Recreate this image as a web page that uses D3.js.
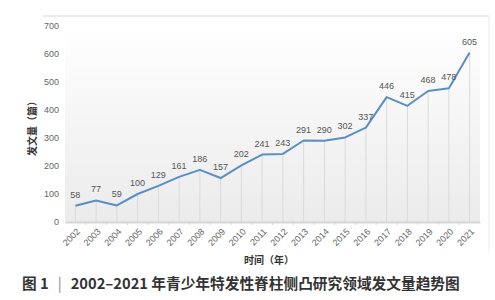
<!DOCTYPE html>
<html>
<head>
<meta charset="utf-8">
<script src="https://cdn.jsdelivr.net/npm/d3@7"></script>
<style>
  body { margin: 0; background: #fff; }
  svg { display: block; font-family: "Liberation Sans", Arial, sans-serif; }
</style>
</head>
<body>
<div id="chart"></div>
<script>
// data
const years = ["2002","2003","2004","2005","2006","2007","2008","2009","2010","2011",
               "2012","2013","2014","2015","2016","2017","2018","2019","2020","2021"];
const counts = [58, 77, 59, 100, 129, 161, 186, 157, 202, 241,
                243, 291, 290, 302, 337, 446, 415, 468, 478, 605];
const yTicks = [0, 100, 200, 300, 400, 500, 600, 700];

const W = 495, H = 300;
const margin = { top: 26, right: 15, bottom: 78, left: 65 };
const innerW = W - margin.left - margin.right;
const innerH = H - margin.top - margin.bottom;

const svg = d3.select("#chart").append("svg")
    .attr("width", W)
    .attr("height", H);

// gradient for the plot background
const defs = svg.append("defs");
const grad = defs.append("linearGradient")
    .attr("id", "bg")
    .attr("x1", 0).attr("y1", 0).attr("x2", 0).attr("y2", 1);
grad.append("stop").attr("offset", "0%").attr("stop-color", "#ffffff");
grad.append("stop").attr("offset", "100%").attr("stop-color", "#ebebeb");

// outer panel lines (top and right)
svg.append("line")
    .attr("x1", 43).attr("x2", 489).attr("y1", 16).attr("y2", 16)
    .attr("stroke", "#e4e4e4").attr("stroke-width", 1.5);
svg.append("line")
    .attr("x1", 489).attr("x2", 489).attr("y1", 16).attr("y2", 252)
    .attr("stroke", "#ececec").attr("stroke-width", 1);

const g = svg.append("g")
    .attr("transform", `translate(${margin.left},${margin.top})`);

const x = d3.scaleBand().domain(years).range([0, innerW]);
const y = d3.scaleLinear().domain([0, 700]).range([innerH, 0]);
const cx = d => x(d) + x.bandwidth() / 2;

g.append("rect")
    .attr("x", 0).attr("y", 0)
    .attr("width", innerW).attr("height", innerH)
    .attr("fill", "url(#bg)");

// y axis labels
const yAxis = g.append("g")
    .call(d3.axisLeft(y).tickValues(yTicks).tickSize(0).tickPadding(6));
yAxis.select(".domain").remove();
yAxis.selectAll("text")
    .attr("fill", "#666")
    .style("font-size", "9px");

// drop lines from each point to baseline
g.selectAll(".drop")
    .data(counts)
    .join("line")
    .attr("class", "drop")
    .attr("x1", (d, i) => cx(years[i]))
    .attr("x2", (d, i) => cx(years[i]))
    .attr("y1", d => y(d))
    .attr("y2", innerH)
    .attr("stroke", "#dadada")
    .attr("stroke-width", 1);

// x axis baseline (labels drawn separately, slanted)
const xAxis = g.append("g")
    .attr("transform", `translate(0,${innerH})`)
    .call(d3.axisBottom(x).tickSize(0).tickFormat(""));
xAxis.select(".domain")
    .attr("stroke", "#d6d6d6")
    .attr("stroke-width", 2);

g.selectAll(".xlab")
    .data(years)
    .join("text")
    .attr("class", "xlab")
    .attr("transform", d => `translate(${cx(d) + 3},${innerH + 8}) rotate(-45)`)
    .attr("text-anchor", "end")
    .attr("dy", "0.35em")
    .attr("fill", "#666")
    .style("font-size", "9px")
    .text(d => d);

// small tick marks at band edges
g.selectAll(".tick-mark")
    .data(years.slice(1))
    .join("line")
    .attr("class", "tick-mark")
    .attr("x1", d => x(d)).attr("x2", d => x(d))
    .attr("y1", innerH).attr("y2", innerH + 3)
    .attr("stroke", "#d6d6d6");

// the line
const line = d3.line()
    .x((d, i) => cx(years[i]))
    .y(d => y(d));

g.append("path")
    .datum(counts)
    .attr("fill", "none")
    .attr("stroke", "#5b8ec4")
    .attr("stroke-width", 2)
    .attr("stroke-linejoin", "round")
    .attr("d", line);

// value labels
g.selectAll(".val")
    .data(counts)
    .join("text")
    .attr("class", "val")
    .attr("x", (d, i) => cx(years[i]))
    .attr("y", d => y(d) - 8)
    .attr("text-anchor", "middle")
    .attr("fill", "#555")
    .style("font-size", "9px")
    .text(d => d);

// axis titles
svg.append("text")
    .attr("x", 269).attr("y", 264)
    .attr("text-anchor", "middle")
    .attr("fill", "#333")
    .style("font-family", "'Noto Sans CJK SC', sans-serif")
    .style("font-size", "10px")
    .style("font-weight", "bold")
    .text("时间（年）");

svg.append("text")
    .attr("transform", "translate(36,126) rotate(-90)")
    .attr("text-anchor", "middle")
    .attr("fill", "#333")
    .style("font-family", "'Noto Sans CJK SC', sans-serif")
    .style("font-size", "10px")
    .style("font-weight", "bold")
    .text("发文量（篇）");

// figure caption
const cap = svg.append("text")
    .attr("x", 22).attr("y", 289)
    .attr("fill", "#333")
    .style("font-family", "'Noto Sans CJK SC', sans-serif")
    .style("font-size", "14.7px")
    .style("font-weight", "bold");
cap.append("tspan").text("图 1");
cap.append("tspan").attr("dx", 9).attr("fill", "#888").style("font-weight", "normal").text("|");
cap.append("tspan").attr("dx", 9).text("2002–2021 年青少年特发性脊柱侧凸研究领域发文量趋势图");
</script>
</body>
</html>
